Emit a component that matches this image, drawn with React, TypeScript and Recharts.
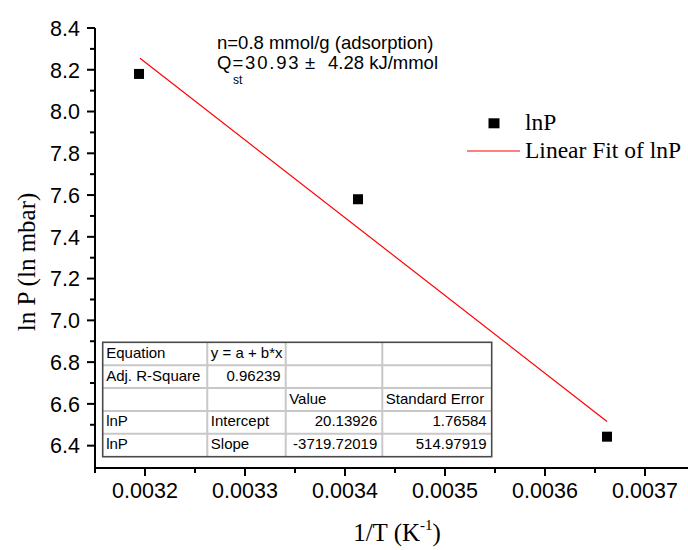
import React from 'react';
import { ComposedChart, Scatter, Line, XAxis, YAxis } from 'recharts';

// measured points: 1/T vs ln P
const invT = [0.003194, 0.003413, 0.003662];
const lnP = [8.18, 7.58, 6.443];

// linear fit drawn between first and last point
const fitInvT = [0.003195, 0.003662];
const fitLnP = [8.255, 6.516];

const xMajorTicks = [0.0032, 0.0033, 0.0034, 0.0035, 0.0036, 0.0037];
const xMinorTicks = [0.00315, 0.00325, 0.00335, 0.00345, 0.00355, 0.00365];
const yMajorTicks = [6.4, 6.6, 6.8, 7.0, 7.2, 7.4, 7.6, 7.8, 8.0, 8.2, 8.4];
const yMinorTicks = [6.5, 6.7, 6.9, 7.1, 7.3, 7.5, 7.7, 7.9, 8.1, 8.3];

const tableRows = [
  ['Equation', 'y = a + b*x', '', ''],
  ['Adj. R-Square', '0.96239', '', ''],
  ['', '', 'Value', 'Standard Error'],
  ['lnP', 'Intercept', '20.13926', '1.76584'],
  ['lnP', 'Slope', '-3719.72019', '514.97919'],
];

const W = 688;
const H = 550;
const AXIS_X = 95;
const AXIS_Y = 468;
const TOP = 28;

const SANS = '"Liberation Sans", Arial, Helvetica, sans-serif';
const SERIF = '"Liberation Serif", "Times New Roman", Times, serif';

const isMajor = (v: number, list: number[]) => list.some(t => Math.abs(t - v) < 1e-9);

const XTick = (props: any) => {
  const { x, payload } = props;
  const major = isMajor(payload.value, xMajorTicks);
  return (
    <g>
      <line x1={x} x2={x} y1={AXIS_Y} y2={AXIS_Y + (major ? 8 : 5)} stroke="#000" strokeWidth={2} />
      {major && (
        <text x={x} y={AXIS_Y + 15} dy="0.71em" textAnchor="middle" fontFamily={SANS} fontSize={21.5} fill="#000">
          {payload.value.toFixed(4)}
        </text>
      )}
    </g>
  );
};

const YTick = (props: any) => {
  const { y, payload } = props;
  const major = isMajor(payload.value, yMajorTicks);
  return (
    <g>
      <line x1={AXIS_X - (major ? 8 : 5)} x2={AXIS_X} y1={y} y2={y} stroke="#000" strokeWidth={2} />
      {major && (
        <text x={AXIS_X - 15} y={y} dy="0.36em" textAnchor="end" fontFamily={SANS} fontSize={21.5} fill="#000">
          {payload.value.toFixed(1)}
        </text>
      )}
    </g>
  );
};

const squareShape = (props: any) => (
  <rect x={props.cx - 5} y={props.cy - 5} width={10} height={10} fill="#000" />
);

function FitTable() {
  const colX = [102.7, 207.3, 285.7, 382.3, 491.7];
  const top = 342.3;
  const rowH = 22.88;
  const bottom = top + rowH * tableRows.length;
  return (
    <g>
      <rect x={colX[0]} y={top} width={colX[4] - colX[0]} height={bottom - top} fill="#fff" />
      {colX.slice(1, 4).map(cx => (
        <line key={'v' + cx} x1={cx} x2={cx} y1={top} y2={bottom} stroke="#c8c8c8" strokeWidth={2} />
      ))}
      {tableRows.slice(1).map((_, i) => (
        <line key={'h' + i} x1={colX[0]} x2={colX[4]} y1={top + rowH * (i + 1)} y2={top + rowH * (i + 1)} stroke="#c8c8c8" strokeWidth={2} />
      ))}
      <rect x={colX[0]} y={top} width={colX[4] - colX[0]} height={bottom - top} fill="none" stroke="#4a4a4a" strokeWidth={1.6} />
      {tableRows.map((row, r) =>
        row.map((cell, c) => {
          if (!cell) return null;
          const numeric = /^-?\d/.test(cell);
          return (
            <text
              key={r + '-' + c}
              x={numeric ? colX[c + 1] - 5 : colX[c] + 3.5}
              y={top + rowH * r + 15.5}
              textAnchor={numeric ? 'end' : 'start'}
              fontFamily={SANS}
              fontSize={15}
              fill="#000"
            >
              {cell}
            </text>
          );
        })
      )}
    </g>
  );
}

export default function App() {
  const points = invT.map((x, i) => ({ x, y: lnP[i] }));
  const fit = fitInvT.map((x, i) => ({ x, y: fitLnP[i] }));

  return (
    <div style={{ position: 'absolute', left: 0, top: 0, width: W, height: H, overflow: 'hidden', background: '#fff' }}>
      <ComposedChart width={W} height={H} margin={{ top: TOP, right: 0, bottom: 0, left: 0 }}>
        <XAxis
          dataKey="x"
          type="number"
          domain={[0.00315, 0.003743]}
          ticks={[...xMinorTicks, ...xMajorTicks].sort((a, b) => a - b)}
          interval={0}
          height={H - AXIS_Y}
          tick={XTick}
          tickLine={false}
          axisLine={{ stroke: '#000', strokeWidth: 2 }}
          allowDataOverflow
        />
        <XAxis
          xAxisId="top"
          orientation="top"
          type="number"
          domain={[0.00315, 0.003743]}
          height={0}
          tick={false}
          tickLine={false}
          axisLine={{ stroke: '#000', strokeWidth: 2 }}
        />
        <YAxis
          dataKey="y"
          type="number"
          domain={[6.293, 8.4]}
          ticks={[...yMinorTicks, ...yMajorTicks].sort((a, b) => a - b)}
          interval={0}
          width={AXIS_X}
          tick={YTick}
          tickLine={false}
          axisLine={{ stroke: '#000', strokeWidth: 2 }}
          allowDataOverflow
        />
        <Line
          data={fit}
          dataKey="y"
          type="linear"
          stroke="#ff0000"
          strokeWidth={1.2}
          dot={false}
          activeDot={false}
          isAnimationActive={false}
        />
        <Scatter data={points} dataKey="y" fill="#000" shape={squareShape} isAnimationActive={false} />
      </ComposedChart>

      <svg width={W} height={H} style={{ position: 'absolute', left: 0, top: 0, pointerEvents: 'none' }}>
        <text
          transform="translate(26,262) rotate(-90)"
          textAnchor="middle"
          dy="0.35em"
          fontFamily={SERIF}
          fontSize={25}
          fill="#000"
        >
          ln P (ln mbar)
        </text>

        <text x={397} y={541} textAnchor="middle" fontFamily={SERIF} fontSize={25} fill="#000">
          1/T (K<tspan fontSize={15} dy={-11}>-1</tspan><tspan dy={11}>)</tspan>
        </text>

        <text x={217} y={48.5} fontFamily={SANS} fontSize={18.5} fill="#000">n=0.8 mmol/g (adsorption)</text>
        <text x={217} y={68.5} fontFamily={SANS} fontSize={18.5} fill="#000">Q</text>
        <text x={233} y={84} fontFamily={SANS} fontSize={12} fill="#000">st</text>
        <text x={232.5} y={68.5} fontFamily={SANS} fontSize={18.5} fill="#000" textLength={66} lengthAdjust="spacing">=30.93</text>
        <text x={305} y={68.5} fontFamily={SANS} fontSize={18.5} fill="#000">±</text>
        <text x={328} y={68.5} fontFamily={SANS} fontSize={18.5} fill="#000">4.28 kJ/mmol</text>

        <rect x={488.5} y={118.3} width={11} height={10} fill="#000" />
        <text x={525} y={130} fontFamily={SERIF} fontSize={23.5} fill="#000">lnP</text>
        <line x1={467} x2={520} y1={151} y2={151} stroke="#ff0000" strokeWidth={1.2} />
        <text x={525} y={158} fontFamily={SERIF} fontSize={23.5} fill="#000">Linear Fit of lnP</text>

        <FitTable />
      </svg>
    </div>
  );
}
